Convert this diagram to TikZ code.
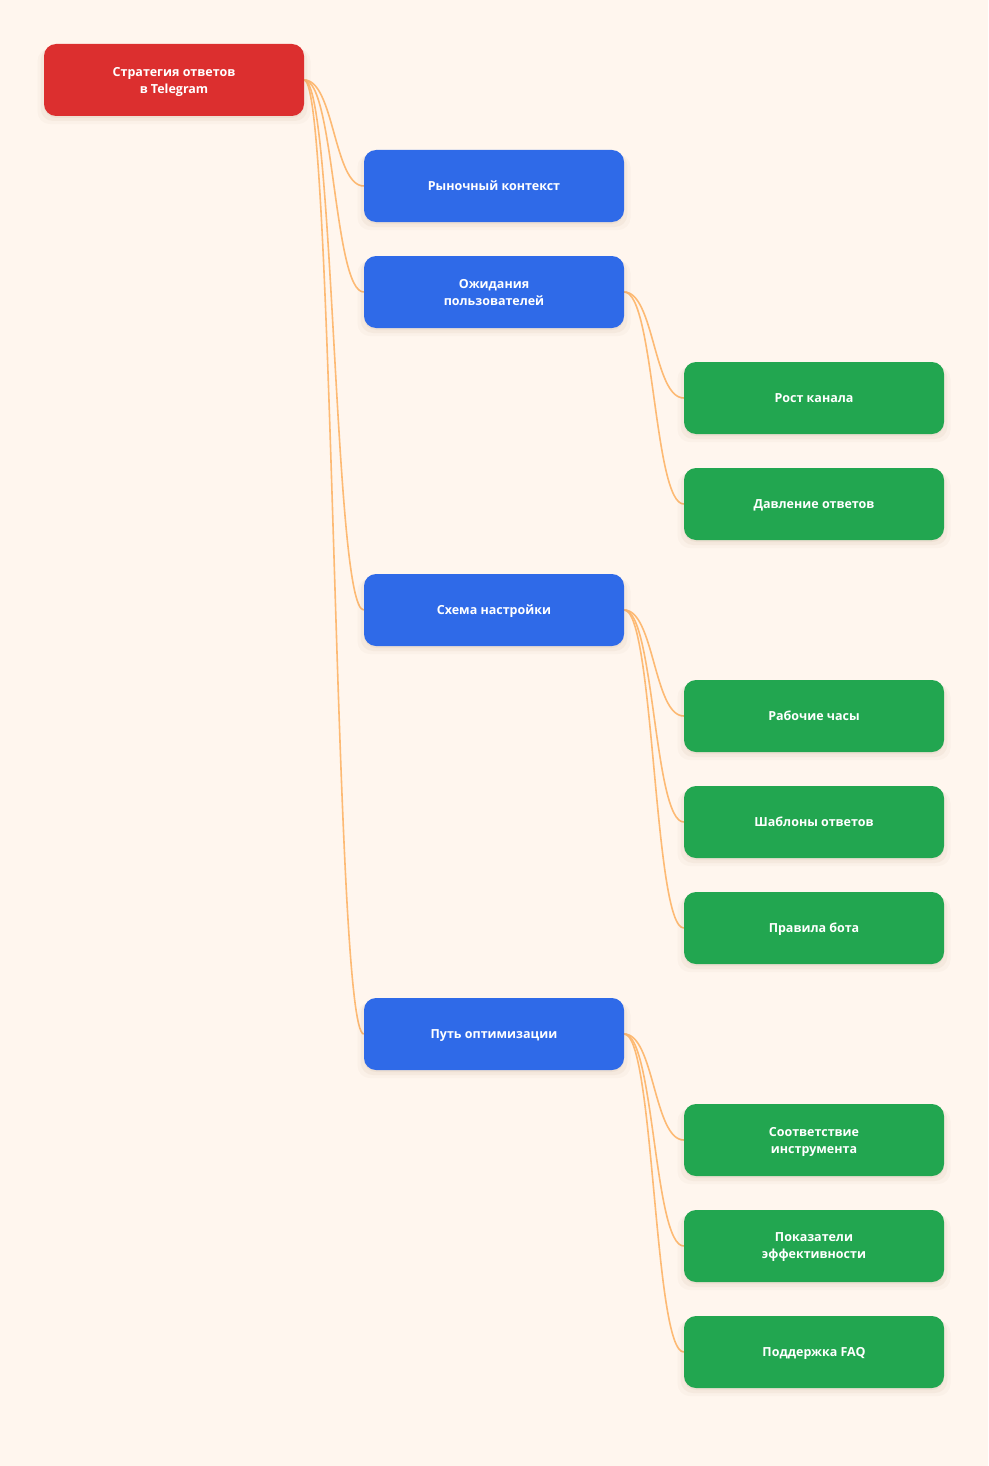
\documentclass[tikz,border=0pt]{standalone}
\usepackage{fontspec}
\setmainfont{Open Sans}
\usetikzlibrary{calc,shadows}
\definecolor{bgc}{HTML}{FFF6EE}
\definecolor{rootc}{HTML}{DC2F2F}
\definecolor{bluec}{HTML}{2F6AE8}
\definecolor{greenc}{HTML}{22A650}
\definecolor{linkc}{HTML}{FDBA74}
\definecolor{shadc}{HTML}{8A5A30}
\pgfdeclarelayer{bglayer}
\pgfdeclarelayer{edgelayer}
\pgfsetlayers{bglayer,edgelayer,main}
\tikzset{
  box/.style={rectangle, rounded corners=12pt, minimum width=260pt, minimum height=72pt,
    text=white, align=center, inner sep=0pt, text depth=0pt,
    font=\fontsize{12.5}{17}\selectfont\bfseries,
    drop shadow={shadow xshift=0pt, shadow yshift=-6pt, shadow scale=1.05, opacity=0.03, fill=shadc},
    drop shadow={shadow xshift=0pt, shadow yshift=-4pt, shadow scale=1.025, opacity=0.05, fill=shadc},
    drop shadow={shadow xshift=0pt, shadow yshift=-2pt, opacity=0.06, fill=shadc}},
  rootbox/.style={box, fill=rootc},
  bluebox/.style={box, fill=bluec},
  greenbox/.style={box, fill=greenc},
  link/.style={draw=linkc, line width=1.6pt}
}
\newcommand{\lnk}[2]{\draw[link] (#1.east) .. controls ($(#1.east)+(30,0)$) and ($(#2.west)+(-30,0)$) .. (#2.west);}
\begin{document}
\begin{tikzpicture}[x=1pt,y=-1pt]
\begin{pgfonlayer}{bglayer}
\fill[bgc] (0,0) rectangle (988,1466);
\end{pgfonlayer}
\useasboundingbox (0,0) rectangle (988,1466);
\node[rootbox] (root) at (174,80) {Стратегия ответов\\в Telegram};
\node[bluebox] (b1) at (494,186) {Рыночный контекст};
\node[bluebox] (b2) at (494,292) {Ожидания\\пользователей};
\node[greenbox] (g1) at (814,398) {Рост канала};
\node[greenbox] (g2) at (814,504) {Давление ответов};
\node[bluebox] (b3) at (494,610) {Схема настройки};
\node[greenbox] (g3) at (814,716) {Рабочие часы};
\node[greenbox] (g4) at (814,822) {Шаблоны ответов};
\node[greenbox] (g5) at (814,928) {Правила бота};
\node[bluebox] (b4) at (494,1034) {Путь оптимизации};
\node[greenbox] (g6) at (814,1140) {Соответствие\\инструмента};
\node[greenbox] (g7) at (814,1246) {Показатели\\эффективности};
\node[greenbox] (g8) at (814,1352) {Поддержка FAQ};
\begin{pgfonlayer}{edgelayer}
\lnk{root}{b1}
\lnk{root}{b2}
\lnk{root}{b3}
\lnk{root}{b4}
\lnk{b2}{g1}
\lnk{b2}{g2}
\lnk{b3}{g3}
\lnk{b3}{g4}
\lnk{b3}{g5}
\lnk{b4}{g6}
\lnk{b4}{g7}
\lnk{b4}{g8}
\end{pgfonlayer}
\end{tikzpicture}
\end{document}
